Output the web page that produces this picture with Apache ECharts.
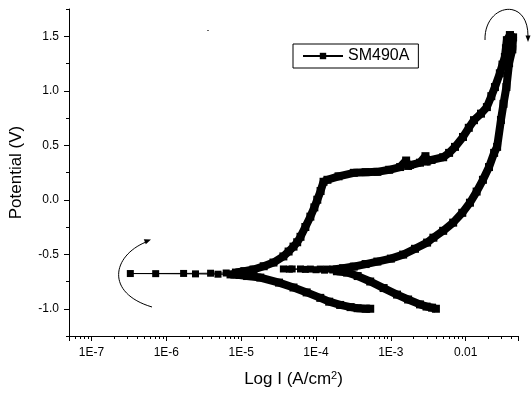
<!DOCTYPE html>
<html>
<head>
<meta charset="utf-8">
<script src="https://cdn.jsdelivr.net/npm/echarts@6/dist/echarts.min.js"></script>
<style>
  html, body { margin: 0; padding: 0; background: #fff; }
  #chart { width: 531px; height: 396px; }
</style>
</head>
<body>
<div id="chart"></div>
<script>
// ---- Data (current density A/cm^2, potential V) ----
// forward scan, cathodic branch (from -1.0 V toward Ecorr)
const fwdCatI = [5.3e-4, 4.6e-4, 3.6e-4, 2.9e-4, 2.1e-4, 1.5e-4, 1.14e-4, 7.5e-5, 5.0e-5, 3.2e-5, 1.8e-5, 1.2e-5, 9.5e-6, 7.2e-6];
const fwdCatE = [-1.00, -1.00, -0.995, -0.985, -0.965, -0.935, -0.90, -0.85, -0.805, -0.76, -0.714, -0.70, -0.69, -0.685];
// forward scan, sparse points around Ecorr
const ecorrI = [7.2e-6, 4.9e-6, 2.45e-6, 7.2e-7, 3.3e-7, 1.7e-6, 3.9e-6, 6.3e-6, 8.5e-6];
const ecorrE = [-0.685, -0.683, -0.680, -0.678, -0.677, -0.676, -0.674, -0.672, -0.670];
// forward scan, anodic branch up to the vertex
const fwdAnoI = [8.5e-6, 1.1e-5, 1.46e-5, 2.0e-5, 2.7e-5, 3.66e-5, 4.3e-5, 5.0e-5, 5.6e-5, 6.2e-5, 7.2e-5, 8.4e-5, 9.5e-5, 1.04e-4, 1.15e-4, 1.26e-4, 1.42e-4, 2.0e-4, 3.2e-4, 4.6e-4, 6.6e-4, 9.5e-4, 1.33e-3, 1.6e-3, 1.7e-3, 1.8e-3, 2.45e-3, 2.9e-3, 3.0e-3, 3.5e-3, 5.0e-3, 6.0e-3, 7.2e-3, 9.2e-3, 1.1e-2, 1.29e-2, 1.6e-2, 1.92e-2, 2.2e-2, 2.46e-2, 2.86e-2, 3.1e-2, 3.34e-2, 3.45e-2, 3.55e-2, 3.9e-2];
const fwdAnoE = [-0.668, -0.655, -0.64, -0.61, -0.576, -0.52, -0.475, -0.43, -0.39, -0.34, -0.25, -0.155, -0.07, 0.0, 0.08, 0.165, 0.183, 0.215, 0.247, 0.253, 0.256, 0.275, 0.30, 0.36, 0.31, 0.32, 0.34, 0.40, 0.35, 0.365, 0.39, 0.43, 0.485, 0.576, 0.66, 0.73, 0.79, 0.85, 0.95, 1.034, 1.16, 1.24, 1.31, 1.39, 1.464, 1.51];
// reverse scan from the vertex down to repassivation
const revI = [3.9e-2, 4.3e-2, 4.2e-2, 3.8e-2, 3.5e-2, 3.2e-2, 2.96e-2, 2.63e-2, 2.4e-2, 2.05e-2, 1.7e-2, 1.4e-2, 1.14e-2, 9.0e-3, 6.8e-3, 5.0e-3, 3.7e-3, 3.05e-3, 2.1e-3, 1.46e-3, 1.0e-3, 6.6e-4, 4.6e-4, 3.2e-4, 2.3e-4, 1.7e-4];
const revE = [1.51, 1.49, 1.38, 1.253, 1.034, 0.88, 0.732, 0.485, 0.43, 0.30, 0.183, 0.075, -0.027, -0.12, -0.21, -0.285, -0.348, -0.393, -0.45, -0.503, -0.54, -0.567, -0.59, -0.613, -0.628, -0.64];
// reverse scan, sparse points around the second zero-current crossing
const revZeroI = [1.7e-4, 1.4e-4, 1.14e-4, 8.4e-5, 6.2e-5, 4.8e-5, 3.66e-5, 4.4e-5, 7.2e-5, 1.0e-4, 1.3e-4, 1.9e-4];
const revZeroE = [-0.64, -0.636, -0.636, -0.636, -0.635, -0.635, -0.635, -0.637, -0.639, -0.642, -0.646, -0.656];
// reverse scan, cathodic branch down to -1.0 V
const revCatI = [1.9e-4, 2.6e-4, 3.6e-4, 5.3e-4, 8.0e-4, 1.21e-3, 1.7e-3, 2.45e-3, 3.0e-3, 3.55e-3, 4.0e-3];
const revCatE = [-0.656, -0.668, -0.70, -0.75, -0.81, -0.87, -0.915, -0.96, -0.98, -0.99, -1.0];

// ---- Axes ----
const xMin = 5e-8, xMax = 0.05;
const yMin = -1.25, yMax = 1.75;
const xTickValues = [1e-7, 1e-6, 1e-5, 1e-4, 1e-3, 1e-2];
const xTickLabels = ['1E-7', '1E-6', '1E-5', '1E-4', '1E-3', '0.01'];
const yMajorTicks = [-1.0, -0.5, 0.0, 0.5, 1.0, 1.5];
const xMinorTicks = [];
for (let n = -8; n <= -2; n++) {
  for (let k = 2; k <= 9; k++) {
    const v = k * Math.pow(10, n);
    if (v >= xMin * 0.999 && v <= xMax * 1.001) xMinorTicks.push(v);
  }
}

const zip = (a, b) => a.map((v, i) => [v, b[i]]);
const FONT = 'Liberation Sans, Arial, sans-serif';

const thin = (name, I, E) => ({
  type: 'line', name: name, data: zip(I, E),
  symbol: 'rect', symbolSize: 7, showSymbol: true,
  lineStyle: { color: '#000', width: 1 }, itemStyle: { color: '#000' },
  silent: true, z: 3
});
const thick = (name, I, E) => ({
  type: 'line', name: name, data: zip(I, E),
  symbol: 'rect', symbolSize: 8, showSymbol: true,
  lineStyle: { color: '#000', width: 8, join: 'bevel' }, itemStyle: { color: '#000' },
  silent: true, z: 2
});

const chart = echarts.init(document.getElementById('chart'), null, { renderer: 'canvas' });
chart.setOption({
  animation: false,
  backgroundColor: '#fff',
  grid: { left: 68, right: 13, top: 9, bottom: 60 },
  legend: {
    data: ['SM490A'], left: 293, top: 44,
    padding: [4, 9, 4, 9], borderColor: '#000', borderWidth: 1,
    itemWidth: 40, itemHeight: 8, itemGap: 0,
    textStyle: { fontSize: 16, color: '#000', fontFamily: FONT },
    selectedMode: false
  },
  xAxis: {
    type: 'log', logBase: 10, min: xMin, max: xMax, splitNumber: 6,
    axisLine: { onZero: false, lineStyle: { color: '#000', width: 1 } },
    axisTick: { length: 5, lineStyle: { color: '#000' } },
    axisLabel: {
      color: '#000', fontSize: 12, fontFamily: FONT, margin: 11,
      formatter: function (v) {
        const lv = Math.log10(v);
        for (let i = 0; i < xTickValues.length; i++) {
          if (Math.abs(lv - Math.log10(xTickValues[i])) < 1e-6) return xTickLabels[i];
        }
        return '';
      }
    },
    splitLine: { show: false },
    name: 'Log I (A/cm{sup|2})', nameLocation: 'middle', nameGap: 34,
    nameTextStyle: {
      color: '#000', fontSize: 17, fontFamily: FONT,
      rich: { sup: { fontSize: 11, fontFamily: FONT, color: '#000', verticalAlign: 'top', padding: [0, 0, 8, 0] } }
    }
  },
  yAxis: {
    type: 'value', min: yMin, max: yMax, interval: 0.25,
    axisLine: { show: true, onZero: false, lineStyle: { color: '#000', width: 1 } },
    axisTick: { show: true, length: 3, lineStyle: { color: '#000' } },
    axisLabel: {
      color: '#000', fontSize: 12, fontFamily: FONT, margin: 10,
      formatter: function (v) {
        for (let i = 0; i < yMajorTicks.length; i++) {
          if (Math.abs(v - yMajorTicks[i]) < 1e-6) return yMajorTicks[i].toFixed(1);
        }
        return '';
      }
    },
    splitLine: { show: false },
    name: 'Potential (V)', nameLocation: 'middle', nameGap: 44,
    nameTextStyle: { color: '#000', fontSize: 17, fontFamily: FONT }
  },
  series: [
    thin('SM490A', ecorrI, ecorrE),
    thick('SM490A', fwdCatI, fwdCatE),
    thick('SM490A', fwdAnoI, fwdAnoE),
    thick('SM490A', revI, revE),
    thin('SM490A', revZeroI, revZeroE),
    thick('SM490A', revCatI, revCatE),
    {
      type: 'custom', name: 'xMinorTicks', silent: true, clip: false,
      data: xMinorTicks.map(v => [v, yMin]),
      renderItem: function (params, api) {
        const p = api.coord([api.value(0), api.value(1)]);
        const x = Math.round(p[0]) + 0.5;
        const y = Math.round(p[1]);
        return { type: 'line', shape: { x1: x, y1: y, x2: x, y2: y + 3 }, style: { stroke: '#000', lineWidth: 1 } };
      }
    },
    {
      type: 'custom', name: 'yMajorTicks', silent: true, clip: false,
      data: yMajorTicks.map(v => [xMin, v]),
      renderItem: function (params, api) {
        const p = api.coord([api.value(0), api.value(1)]);
        const x = Math.round(p[0]);
        const y = Math.round(p[1]) + 0.5;
        return { type: 'line', shape: { x1: x - 5, y1: y, x2: x, y2: y }, style: { stroke: '#000', lineWidth: 1 } };
      }
    }
  ],
  graphic: [
    { type: 'bezierCurve', silent: true, shape: { x1: 152, y1: 307, cpx1: 105, cpy1: 293, cpx2: 112, cpy2: 256, x2: 146, y2: 242 }, style: { stroke: '#000', fill: null, lineWidth: 1 } },
    { type: 'polygon', silent: true, shape: { points: [[151, 239.5], [145.8, 244.2], [143.8, 239.2]] }, style: { fill: '#000' } },
    { type: 'bezierCurve', silent: true, shape: { x1: 485, y1: 40, cpx1: 484, cpy1: 4, cpx2: 528, cpy2: -4, x2: 528, y2: 36 }, style: { stroke: '#000', fill: null, lineWidth: 1 } },
    { type: 'polygon', silent: true, shape: { points: [[528, 42], [525.5, 35.5], [530.5, 35.5]] }, style: { fill: '#000' } },
    { type: 'rect', silent: true, shape: { x: 207, y: 30, width: 2, height: 1 }, style: { fill: '#666' } }
  ]
});
</script>
</body>
</html>
